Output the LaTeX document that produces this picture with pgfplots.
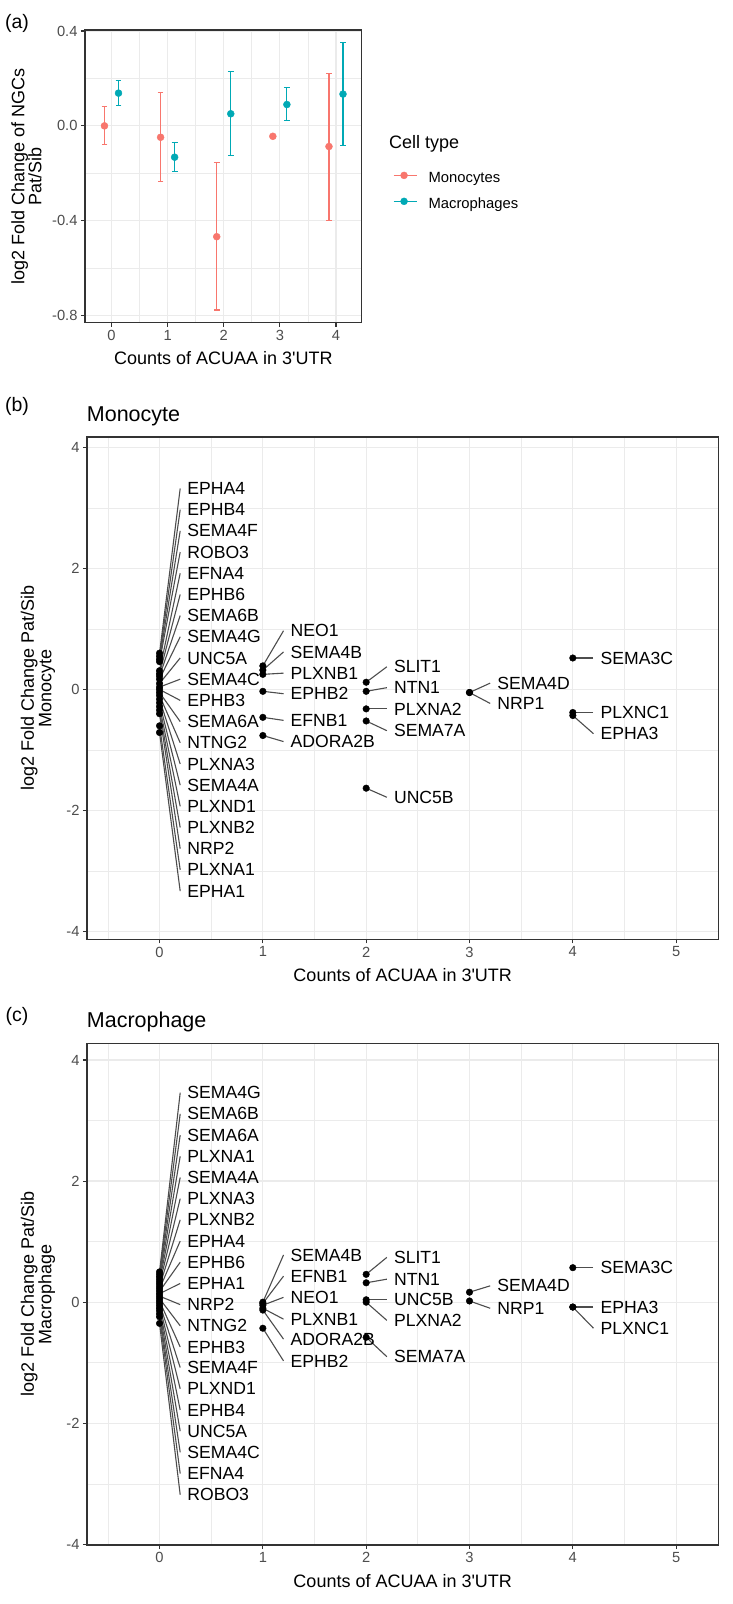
\documentclass[border=0pt]{standalone}
\usepackage{fontspec}
\setmainfont{Liberation Sans}[Ligatures=TeXOff]
\usepackage{pgfplots}
\usepackage{pgfplotstable}
\pgfplotsset{compat=1.18}
\definecolor{monoC}{HTML}{F8766D}
\definecolor{macroC}{HTML}{00A9B5}
\definecolor{gridC}{HTML}{EBEBEB}
\definecolor{tickC}{HTML}{4D4D4D}
\definecolor{frameC}{HTML}{333333}
\definecolor{segC}{HTML}{4D4D4D}

\pgfplotstableread{
x y ep em
-0.125 0.000 0.080 0.080
0.875 -0.048 0.189 0.187
1.875 -0.467 0.311 0.309
2.875 -0.044 0.000 0.000
3.875 -0.087 0.309 0.310
}\monoA
\pgfplotstableread{
x y ep em
0.125 0.138 0.053 0.054
1.125 -0.132 0.062 0.062
2.125 0.051 0.178 0.176
3.125 0.090 0.070 0.068
4.125 0.134 0.219 0.218
}\macroA

\pgfplotstableread{
x y ly label
0 0.60 3.32 EPHA4
0 0.55 2.97 EPHB4
0 0.50 2.62 SEMA4F
0 0.46 2.27 ROBO3
0 0.31 1.92 EFNA4
0 0.26 1.57 EPHB6
0 0.22 1.22 SEMA6B
0 0.17 0.87 SEMA4G
0 0.10 0.52 UNC5A
0 0.04 0.17 SEMA4C
0 0.00 -0.18 EPHB3
0 -0.05 -0.53 SEMA6A
0 -0.10 -0.88 NTNG2
0 -0.16 -1.23 PLXNA3
0 -0.22 -1.58 SEMA4A
0 -0.28 -1.93 PLXND1
0 -0.34 -2.28 PLXNB2
0 -0.40 -2.63 NRP2
0 -0.60 -2.98 PLXNA1
0 -0.71 -3.33 EPHA1
1 0.39 0.97 NEO1
1 0.32 0.62 SEMA4B
1 0.25 0.27 PLXNB1
1 -0.03 -0.07 EPHB2
1 -0.46 -0.51 EFNB1
1 -0.76 -0.86 ADORA2B
2 0.12 0.375 SLIT1
2 -0.03 0.03 NTN1
2 -0.32 -0.32 PLXNA2
2 -0.52 -0.68 SEMA7A
2 -1.63 -1.78 UNC5B
3 -0.05 0.105 SEMA4D
3 -0.05 -0.23 NRP1
4 0.52 0.52 SEMA3C
4 -0.38 -0.38 PLXNC1
4 -0.43 -0.73 EPHA3
}\monoB

\pgfplotstableread{
x y ly label
0 0.50 3.46 SEMA4G
0 0.46 3.11 SEMA6B
0 0.42 2.76 SEMA6A
0 0.38 2.41 PLXNA1
0 0.34 2.06 SEMA4A
0 0.30 1.71 PLXNA3
0 0.26 1.36 PLXNB2
0 0.22 1.01 EPHA4
0 0.18 0.66 EPHB6
0 0.14 0.31 EPHA1
0 0.10 -0.04 NRP2
0 0.06 -0.39 NTNG2
0 0.02 -0.74 EPHB3
0 -0.02 -1.08 SEMA4F
0 -0.06 -1.43 PLXND1
0 -0.10 -1.78 EPHB4
0 -0.14 -2.13 UNC5A
0 -0.19 -2.48 SEMA4C
0 -0.24 -2.83 EFNA4
0 -0.35 -3.18 ROBO3
1 0.00 0.78 SEMA4B
1 -0.02 0.43 EFNB1
1 -0.05 0.08 NEO1
1 -0.10 -0.28 PLXNB1
1 -0.13 -0.61 ADORA2B
1 -0.43 -0.97 EPHB2
2 0.46 0.74 SLIT1
2 0.32 0.38 NTN1
2 0.04 0.04 UNC5B
2 0.00 -0.30 PLXNA2
2 -0.58 -0.90 SEMA7A
3 0.165 0.27 SEMA4D
3 0.02 -0.10 NRP1
4 0.57 0.57 SEMA3C
4 -0.08 -0.08 EPHA3
4 -0.08 -0.43 PLXNC1
}\macroC

\pgfplotsset{
  ggbase/.style={
    scale only axis, anchor=south west,
    axis background/.style={fill=white},
    axis line style={frameC, line width=1.3pt},
    grid=both,
    major grid style={gridC, line width=1.2pt},
    minor grid style={gridC, line width=0.7pt},
    tick pos=left, tick align=outside,
    major tick length=4pt, minor tick length=0pt,
    tick style={frameC, line width=1.1pt},
    /pgf/number format/assume math mode=true,
    tick label style={font=\fontsize{14.7}{16}\selectfont, text=tickC},
    every axis x label/.style={at={(axis description cs:0.5,0)}, anchor=center, yshift=-35.6pt, font=\fontsize{18}{18}\selectfont},
  },
  labplot/.style={only marks, mark=*, mark size=0pt, mark options={draw=none, fill=none},
    nodes near coords, point meta=explicit symbolic, forget plot,
    every node near coord/.append style={anchor=west, inner sep=0pt, xshift=7pt, text=black, font=\fontsize{17.6}{18}\selectfont}},
}

\begin{document}
\begin{tikzpicture}
\path[use as bounding box] (0pt,0pt) rectangle (733pt,-1604pt);

% ---------------- panel (a)
\begin{axis}[ggbase, at={(85pt,-322.7pt)}, width=276.8pt, height=292.7pt,
  xmin=-0.472, xmax=4.46, ymin=-0.8295, ymax=0.404,
  xtick={0,1,2,3,4}, ytick={-0.8,-0.4,0,0.4}, yticklabels={-0.8,-0.4,0.0,0.4},
  minor xtick={0.5,1.5,2.5,3.5}, minor ytick={-0.6,-0.2,0.2},
  xlabel={Counts of ACUAA in 3'UTR},
  ylabel={log2 Fold Change of NGCs\\Pat/Sib},
  every axis y label/.style={at={(axis description cs:-0.2113,0.5)}, rotate=90, anchor=center, align=center, font=\fontsize{18}{17}\selectfont},
  legend style={draw=none, fill=none, at={(axis description cs:1.112,0.5166)}, anchor=north west,
    font=\fontsize{14.8}{16}\selectfont, row sep=12pt, column sep=11.5pt, inner sep=0pt,
    nodes={inner sep=0pt, text height=10.5pt, text depth=3pt}},
  legend cell align=left,
]
\addplot[monoC, only marks, mark=*, mark size=3.5pt, forget plot,
  error bars/.cd, y dir=both, y explicit,
  error bar style={line width=1.1pt, monoC},
  error mark options={rotate=90, mark size=2.9pt, line width=1.1pt, monoC}]
  table[x=x, y=y, y error plus=ep, y error minus=em] {\monoA};
\addplot[macroC, only marks, mark=*, mark size=3.5pt, forget plot,
  error bars/.cd, y dir=both, y explicit,
  error bar style={line width=1.1pt, macroC},
  error mark options={rotate=90, mark size=2.9pt, line width=1.1pt, macroC}]
  table[x=x, y=y, y error plus=ep, y error minus=em] {\macroA};
\addlegendimage{legend image code/.code={\draw[monoC, line width=1.1pt] (0pt,3.5pt) -- (23pt,3.5pt); \fill[monoC] (10.5pt,3.5pt) circle (3.5pt);}}
\addlegendentry{Monocytes}
\addlegendimage{legend image code/.code={\draw[macroC, line width=1.1pt] (0pt,3.5pt) -- (23pt,3.5pt); \fill[macroC] (10.5pt,3.5pt) circle (3.5pt);}}
\addlegendentry{Macrophages}
\end{axis}

% ---------------- panel (b)
\begin{axis}[ggbase, at={(87pt,-939.3pt)}, width=631.5pt, height=502.3pt,
  xmin=-0.702, xmax=5.41, ymin=-4.126, ymax=4.17,
  xtick={0,1,2,3,4,5}, ytick={-4,-2,0,2,4},
  minor xtick={-0.5,0.5,1.5,2.5,3.5,4.5}, minor ytick={-3,-1,1,3},
  xlabel={Counts of ACUAA in 3'UTR},
  ylabel={log2 Fold Change Pat/Sib\\Monocyte},
  every axis y label/.style={at={(axis description cs:-0.0776,0.5)}, rotate=90, anchor=center, align=center, font=\fontsize{18}{17.5}\selectfont},
]
\addplot[quiver={u=0.2, v=\thisrow{ly}-\thisrow{y}}, draw=segC, line width=1.1pt, mark=none, forget plot]
  table[x=x, y=y] {\monoB};
\addplot[only marks, mark=*, mark size=3.3pt, black, forget plot] table[x=x, y=y] {\monoB};
\addplot[labplot] table[x expr=\thisrow{x}+0.2, y=ly, meta=label] {\monoB};
\end{axis}

% ---------------- panel (c)
\begin{axis}[ggbase, at={(87pt,-1545pt)}, width=631.5pt, height=501.7pt,
  xmin=-0.702, xmax=5.41, ymin=-4.01, ymax=4.275,
  xtick={0,1,2,3,4,5}, ytick={-4,-2,0,2,4},
  minor xtick={-0.5,0.5,1.5,2.5,3.5,4.5}, minor ytick={-3,-1,1,3},
  xlabel={Counts of ACUAA in 3'UTR},
  ylabel={log2 Fold Change Pat/Sib\\Macrophage},
  every axis y label/.style={at={(axis description cs:-0.0776,0.5)}, rotate=90, anchor=center, align=center, font=\fontsize{18}{17.5}\selectfont},
]
\addplot[quiver={u=0.2, v=\thisrow{ly}-\thisrow{y}}, draw=segC, line width=1.1pt, mark=none, forget plot]
  table[x=x, y=y] {\macroC};
\addplot[only marks, mark=*, mark size=3.3pt, black, forget plot] table[x=x, y=y] {\macroC};
\addplot[labplot] table[x expr=\thisrow{x}+0.2, y=ly, meta=label] {\macroC};
\end{axis}

% titles
\node[font=\fontsize{19.5}{20}\selectfont] at (17pt,-23pt) {(a)};
\node[font=\fontsize{19.5}{20}\selectfont] at (17pt,-406.7pt) {(b)};
\node[font=\fontsize{19.5}{20}\selectfont] at (17pt,-1016.7pt) {(c)};
\node[anchor=west, inner sep=0pt, font=\fontsize{21.5}{22}\selectfont] at (86.7pt,-416.7pt) {Monocyte};
\node[anchor=west, inner sep=0pt, font=\fontsize{21.5}{22}\selectfont] at (86.7pt,-1021.7pt) {Macrophage};
\node[anchor=west, inner sep=0pt, font=\fontsize{18}{18}\selectfont] at (389pt,-144pt) {Cell type};
\end{tikzpicture}
\end{document}
